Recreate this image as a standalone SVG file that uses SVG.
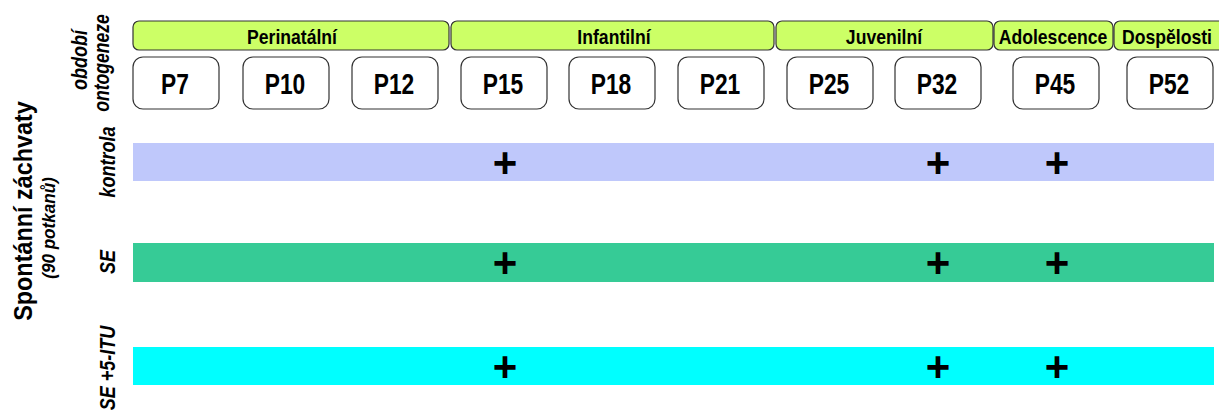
<svg xmlns="http://www.w3.org/2000/svg" width="1219" height="410" viewBox="0 0 1219 410">
<style>
.period{fill:#CCFF66;stroke:#333;stroke-width:1.2}
.ptxt{font-family:"Liberation Sans",sans-serif;font-weight:bold;font-size:20px;text-anchor:middle;fill:#000}
.day{fill:#fff;stroke:#333;stroke-width:1.2}
.dtxt{font-family:"Liberation Sans",sans-serif;font-weight:bold;font-size:30px;text-anchor:middle;fill:#000}
.lbl{font-family:"Liberation Sans",sans-serif;font-weight:bold;font-style:italic;font-size:22px;text-anchor:middle;fill:#000}
.plus{font-family:"Liberation Sans",sans-serif;font-weight:bold;font-size:42px;text-anchor:middle;fill:#000}
</style>
<g id="title">
<text transform="translate(32,211) rotate(-90) scale(0.9,1)" style="font-family:'Liberation Sans',sans-serif;font-weight:bold;font-size:26px;text-anchor:middle">Spontánní záchvaty</text>
<text transform="translate(55,228) rotate(-90) scale(0.95,1)" style="font-family:'Liberation Sans',sans-serif;font-weight:bold;font-style:italic;font-size:18px;text-anchor:middle">(90 potkanů)</text>
</g>
<g id="label-obdobi">
<text class="lbl" transform="translate(87,60) rotate(-90) scale(0.82,1)">období</text>
<text class="lbl" transform="translate(109,63) rotate(-90) scale(0.8,1)">ontogeneze</text>
</g>
<g id="periods">
<g id="perinatalni"><rect class="period" x="133" y="21" width="316" height="29" rx="6"/><text class="ptxt" transform="translate(292,44) scale(0.88,1)">Perinatální</text></g>
<g id="infantilni"><rect class="period" x="451" y="21" width="323" height="29" rx="6"/><text class="ptxt" transform="translate(614,44) scale(0.88,1)">Infantilní</text></g>
<g id="juvenilni"><rect class="period" x="776" y="21" width="217" height="29" rx="6"/><text class="ptxt" transform="translate(884,44) scale(0.88,1)">Juvenilní</text></g>
<g id="adolescence"><rect class="period" x="994" y="21" width="119" height="29" rx="6"/><text class="ptxt" transform="translate(1053,44) scale(0.88,1)">Adolescence</text></g>
<g id="dospelosti"><rect class="period" x="1114" y="21" width="112" height="29" rx="6"/><text class="ptxt" transform="translate(1167,44) scale(0.88,1)">Dospělosti</text></g>
</g>
<g id="days">
<g id="p7"><rect class="day" x="133" y="57" width="86" height="52" rx="10"/><text class="dtxt" transform="translate(175,94) scale(0.76,1)">P7</text></g>
<g id="p10"><rect class="day" x="243" y="57" width="86" height="52" rx="10"/><text class="dtxt" transform="translate(285,94) scale(0.76,1)">P10</text></g>
<g id="p12"><rect class="day" x="352" y="57" width="86" height="52" rx="10"/><text class="dtxt" transform="translate(394,94) scale(0.76,1)">P12</text></g>
<g id="p15"><rect class="day" x="461" y="57" width="86" height="52" rx="10"/><text class="dtxt" transform="translate(503,94) scale(0.76,1)">P15</text></g>
<g id="p18"><rect class="day" x="569" y="57" width="86" height="52" rx="10"/><text class="dtxt" transform="translate(611,94) scale(0.76,1)">P18</text></g>
<g id="p21"><rect class="day" x="678" y="57" width="86" height="52" rx="10"/><text class="dtxt" transform="translate(720,94) scale(0.76,1)">P21</text></g>
<g id="p25"><rect class="day" x="787" y="57" width="86" height="52" rx="10"/><text class="dtxt" transform="translate(829,94) scale(0.76,1)">P25</text></g>
<g id="p32"><rect class="day" x="895" y="57" width="86" height="52" rx="10"/><text class="dtxt" transform="translate(937,94) scale(0.76,1)">P32</text></g>
<g id="p45"><rect class="day" x="1013" y="57" width="86" height="52" rx="10"/><text class="dtxt" transform="translate(1055,94) scale(0.76,1)">P45</text></g>
<g id="p52"><rect class="day" x="1127" y="57" width="86" height="52" rx="10"/><text class="dtxt" transform="translate(1169,94) scale(0.76,1)">P52</text></g>
</g>
<g id="kontrola">
<text class="lbl" transform="translate(115,162) rotate(-90) scale(0.82,1)">kontrola</text>
<rect x="133" y="143" width="1081" height="38" fill="#BFC8FB"/>
<text class="plus" x="505" y="177">+</text><text class="plus" x="938" y="177">+</text><text class="plus" x="1057" y="177">+</text>
</g>
<g id="se">
<text class="lbl" transform="translate(115,262) rotate(-90) scale(0.82,1)">SE</text>
<rect x="133" y="243" width="1081" height="39" fill="#36CB96"/>
<text class="plus" x="505" y="277">+</text><text class="plus" x="938" y="277">+</text><text class="plus" x="1057" y="277">+</text>
</g>
<g id="se-itu">
<text class="lbl" transform="translate(115,368) rotate(-90) scale(0.82,1)">SE +5-ITU</text>
<rect x="133" y="347" width="1081" height="38" fill="#00FFFF"/>
<text class="plus" x="505" y="381">+</text><text class="plus" x="938" y="381">+</text><text class="plus" x="1057" y="381">+</text>
</g>
<g id="connectors"/>
</svg>
